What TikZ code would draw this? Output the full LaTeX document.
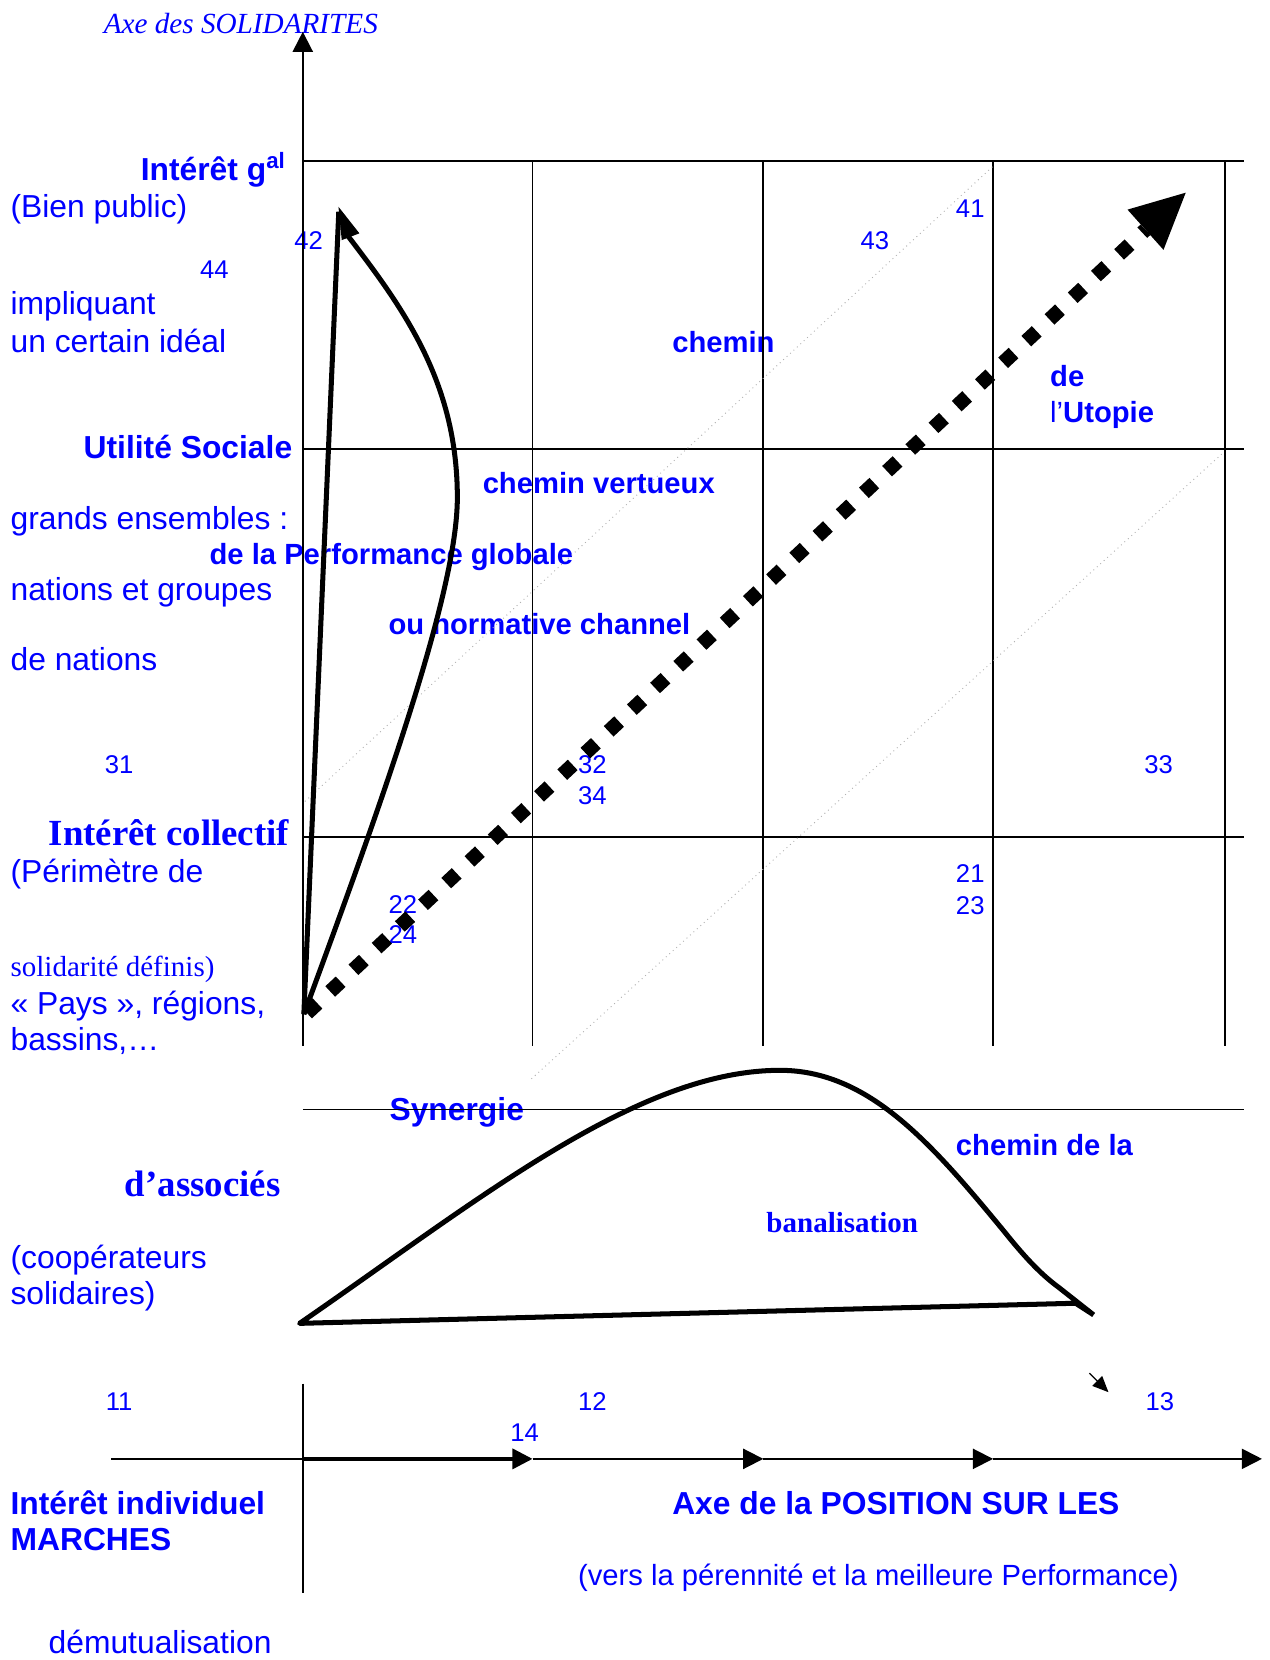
\documentclass[tikz,border=0pt]{standalone}
\usepackage{fontspec}
\setmainfont{Liberation Sans}
\newfontfamily\tmsfont{Liberation Serif}
\usetikzlibrary{arrows.meta}
\begin{document}
\begin{tikzpicture}[x={(0.02cm,0)}, y={(0,-0.02cm)},
 lbl/.style={text=blue, anchor=base west, inner sep=0pt, outer sep=0pt, yshift=-0.03cm},
 big/.style={lbl, font=\fontsize{17.1}{20}\selectfont},
 bigb/.style={lbl, font=\fontsize{17.1}{20}\selectfont\bfseries},
 midb/.style={lbl, font=\fontsize{15.7}{18}\selectfont\bfseries},
 midr/.style={lbl, font=\fontsize{15.7}{18}\selectfont},
 num/.style={lbl, font=\fontsize{13.8}{16}\selectfont},
 tmsb/.style={lbl, font=\fontsize{19.8}{22}\selectfont\tmsfont\bfseries},
 tmsbs/.style={lbl, font=\fontsize{15.6}{18}\selectfont\tmsfont\bfseries},
 tmsr/.style={lbl, font=\fontsize{15.6}{18}\selectfont\tmsfont},
 tmsi/.style={lbl, font=\fontsize{15.7}{18}\selectfont\tmsfont\itshape},
 gridline/.style={line width=1pt},
 pathline/.style={line width=2.7pt, line join=round},
 guide/.style={gray!60, dotted, line width=0.5pt},
 axtip/.style={-{Triangle[length=0.38cm,width=0.38cm]}}
]
\useasboundingbox (0,0) rectangle (1199,1568);

% ---------- texts ----------
\node[tmsi] (axeS) at (98,30) {Axe des SOLIDARITES};
\node[bigb] (igal) at (133,169) {Intérêt g\textsuperscript{al}};
\node[big] (bien) at (10,204) {(Bien public)};
\node[num] (n42) at (278,234) {42};
\node[num] (n44) at (189,262) {44};
\node[num] (n43) at (813,234) {43};
\node[num] (n41) at (903,204) {41};
\node[big] (impl) at (10,296) {impliquant};
\node[big] (ideal) at (10,331) {un certain idéal};
\node[midb] (chem) at (635,331) {chemin};
\node[midb] (de) at (992,364) {de};
\node[midb] (utop) at (992,398) {{\mdseries l’}Utopie};
\node[bigb] (util) at (79,432) {Utilité Sociale};
\node[midb] (vert) at (456,465) {chemin vertueux};
\node[big] (grands) at (10,499) {grands ensembles :};
\node[midb] (perf) at (198,532) {de la Performance globale};
\node[big] (nations) at (10,566) {nations et groupes};
\node[midb] (norm) at (367,598) {ou normative channel};
\node[big] (denat) at (10,632) {de nations};
\node[num] (n31) at (99,729) {31};
\node[num] (n32) at (546,729) {32};
\node[num] (n34) at (546,758) {34};
\node[num] (n33) at (1081,729) {33};
\node[tmsb] (icoll) at (46,797) {Intérêt collectif};
\node[big] (perim) at (10,832) {(Périmètre de};
\node[num] (n21) at (903,832) {21};
\node[num] (n23) at (903,862) {23};
\node[num] (n22) at (367,861) {22};
\node[num] (n24) at (367,890) {24};
\node[tmsr] (solid) at (10,921) {solidarité définis)};
\node[big] (pays) at (10,957) {«~Pays~», régions,};
\node[big] (bass) at (10,991) {bassins,…};
\node[bigb] (syn) at (368,1057) {Synergie};
\node[midb] (chbal) at (903,1090) {chemin de la};
\node[tmsb] (assoc) at (118,1129) {d’associés};
\node[tmsbs] (banal) at (724,1163) {banalisation};
\node[big] (coop) at (10,1197) {(coopérateurs};
\node[big] (solis) at (10,1231) {solidaires)};
\node[num] (n11) at (100,1331) {11};
\node[num] (n12) at (546,1331) {12};
\node[num] (n13) at (1082,1331) {13};
\node[num] (n14) at (482,1360) {14};
\node[bigb] (indiv) at (10,1429) {Intérêt individuel};
\node[bigb] (march) at (10,1463) {MARCHES};
\node[bigb] (axeP) at (635,1429) {Axe de la POSITION SUR LES};
\node[midr] (vers) at (546,1496) {(vers la pérennité et la meilleure Performance)};
\node[big] (demut) at (46,1560) {démutualisation};

% ---------- coordinates ----------
\coordinate (O) at (286,988);
\coordinate (Ytop) at (286,30);
\coordinate (X0) at (105,1378);
\coordinate (X1) at (286,1378);
\coordinate (X2) at (503,1378);
\coordinate (X3) at (721,1378);
\coordinate (X4) at (938,1378);
\coordinate (X5) at (1192,1378);

% ---------- grid ----------
\draw[gridline, axtip] (O) -- (Ytop);
\foreach \x in {503,721,938,1157} \draw[gridline] (\x,152) -- (\x,988);
\foreach \y in {152,424,791,1048} \draw[gridline] (286,\y) -- (1175,\y);
\draw[gridline] (286,1307) -- (286,1505);

% ---------- x axis ----------
\draw[gridline] (X0) -- (X1);
\draw[line width=1.8pt, axtip] (X1) -- (X2);
\draw[gridline, axtip] (X2) -- (X3);
\draw[gridline, axtip] (X3) -- (X4);
\draw[gridline, axtip] (X4) -- (X5);

% ---------- guides ----------
\draw[guide] (288,757) -- (938,157);
\draw[guide] (502,1019) -- (1155,428);

% ---------- chemin de l'Utopie ----------
\coordinate (U0) at (290,957);
\coordinate (U1) at (1082,217);
\draw[line width=0.27cm, dash pattern=on 0.27cm off 0.33cm] (U0) -- (U1);
\fill (1120,182) -- (1065,198) -- (1099,236) -- cycle;

% ---------- chemin vertueux ----------
\coordinate (A0) at (287,958);
\coordinate (A1) at (320,200);
\draw[pathline] (A0) -- (A1);
\draw[pathline] (A0) .. controls (360,760) and (432,560) .. (432,470)
  .. controls (432,360) and (380,290) .. (328,222);
\fill (319.7,195.3) -- (339.5,220.4) -- (322.8,226.8) -- cycle;

% ---------- chemin de la banalisation ----------
\draw[pathline] (1033,1242) -- (1016,1231) -- (283,1250)
  .. controls (450,1135) and (600,1012) .. (735,1011)
  .. controls (820,1010) and (880,1080) .. (950,1165)
  .. controls (970,1190) and (985,1205) .. (1000,1216) -- (1033,1242);
\coordinate (s0) at (1029,1297);
\coordinate (s1) at (1047,1315);
\draw[line width=0.6pt, -{Triangle[length=0.3cm,width=0.26cm]}] (s0) -- (s1);
\end{tikzpicture}
\end{document}
